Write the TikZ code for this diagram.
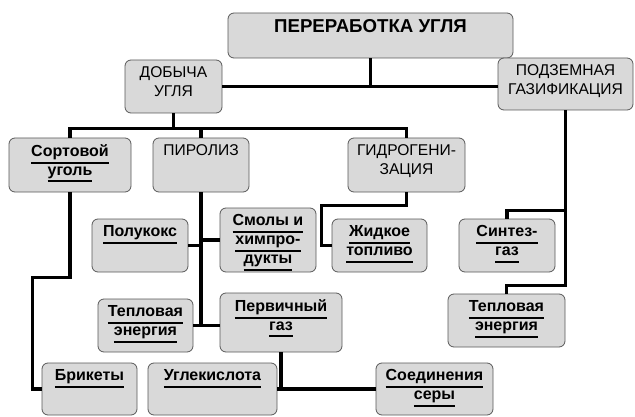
\documentclass[tikz,border=0pt]{standalone}
\usepackage{fontspec}
\setmainfont{Liberation Sans}
\usepackage{tikz}

% underlined leaf text, one line
\newcommand{\undl}[1]{\vtop{\hbox{#1\vrule width 0pt depth 2.7pt}\kern1.1pt\hrule height 1.5pt}}

\tikzset{
  box/.style 2 args={draw=black!65, line width=0.6pt, fill=black!15, rounded corners=4.5pt,
    minimum width=#1*0.75pt, minimum height=#2*0.75pt, inner sep=0pt},
  lbl/.style={anchor=north, align=center, inner sep=5pt},
  catg/.style={font=\fontsize{11.7}{14.2}\selectfont},
  leaf/.style={font=\fontsize{12}{14.2}\selectfont\bfseries},
  link/.style={line width=2.6pt}
}

\begin{document}
\begin{tikzpicture}[x=0.75pt,y=0.75pt,yscale=-1,xscale=1]
  \fill[white] (0,0) rectangle (635,417);
  \useasboundingbox (0,0) rectangle (635,417);

  %Main box
  \node[box={285}{45}, label={[lbl,font=\fontsize{14}{16}\selectfont\bfseries]north:ПЕРЕРАБОТКА УГЛЯ}] (main) at (370.5,35.5) {};
  %Methods
  \node[box={97}{53}, label={[lbl,catg]north:ДОБЫЧА\\УГЛЯ}] (dob) at (173.5,86.5) {};
  \node[box={135}{52}, label={[lbl,catg]north:ПОДЗЕМНАЯ\\ГАЗИФИКАЦИЯ}] (podz) at (565.5,84) {};
  \node[box={122}{54}, label={[lbl,leaf]north:\undl{Сортовой}\\\undl{уголь}}] (sort) at (70,165) {};
  \node[box={96}{54}, label={[lbl,catg]north:ПИРОЛИЗ}] (piro) at (201,165) {};
  \node[box={117}{54}, label={[lbl,catg]north:ГИДРОГЕНИ-\\ЗАЦИЯ}] (gidr) at (406.5,165) {};
  %Products
  \node[box={96}{53}, label={[lbl,leaf]north:\undl{Полукокс}}] (polu) at (140,245.5) {};
  \node[box={96}{64}, label={[lbl,leaf]north:\undl{Смолы и}\\\undl{химпро-}\\\undl{дукты}}] (smol) at (268,240) {};
  \node[box={95}{53}, label={[lbl,leaf]north:\undl{Тепловая}\\\undl{энергия}}] (teplA) at (145.5,325.5) {};
  \node[box={122}{59}, label={[lbl,leaf]north:\undl{Первичный}\\\undl{газ}}] (perv) at (281,322.5) {};
  \node[box={95}{52}, label={[lbl,leaf]north:\undl{Брикеты}}] (brik) at (89.5,389) {};
  \node[box={129}{52}, label={[lbl,leaf]north:\undl{Углекислота}}] (ugle) at (212.5,389) {};
  \node[box={117}{52}, label={[lbl,leaf]north:\undl{Соединения}\\\undl{серы}}] (soed) at (434.5,389) {};
  \node[box={95}{53}, label={[lbl,leaf]north:\undl{Жидкое}\\\undl{топливо}}] (zhid) at (379.5,245.5) {};
  \node[box={96}{53}, label={[lbl,leaf]north:\undl{Синтез-}\\\undl{газ}}] (sint) at (507,245.5) {};
  \node[box={117}{53}, label={[lbl,leaf]north:\undl{Тепловая}\\\undl{энергия}}] (teplB) at (506.5,320.5) {};

  %Connectors
  \draw[link] (main.south) -- (main.south |- dob.east);
  \draw[link] (dob.east) -- (podz.west |- dob.east);
  \draw[link] (dob.south) -- ++(0,15) -| (sort.north);
  \draw[link] (dob.south) ++(0,15) -| (piro.north);
  \draw[link] (dob.south) ++(0,15) -| (gidr.north);
  \draw[link] (sort.south) -- ++(0,85) -| ([xshift=-7pt]brik.west) -- (brik.west);
  \draw[link] (piro.south) -- (piro.south |- teplA.east);
  \draw[link] (polu.east) -- (polu.east -| piro.south);
  \draw[link] (smol.west) -- (smol.west -| piro.south);
  \draw[link] (teplA.east) -- (teplA.east -| perv.west);
  \draw[link] (perv.south) -- (perv.south |- ugle.east);
  \draw[link] (ugle.east) -- (soed.west);
  \draw[link] (gidr.south) -- ++(0,13) -| ([xshift=-7.5pt]zhid.west) -- (zhid.west);
  \draw[link] (podz.south) -- ++(0,175) -| (teplB.north);
  \draw[link] (podz.south) ++(0,100) -| (sint.north);
\end{tikzpicture}
\end{document}
